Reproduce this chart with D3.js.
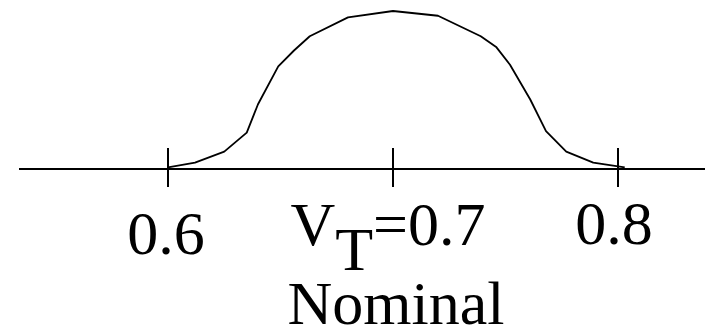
<!DOCTYPE html>
<html>
<head>
<meta charset="utf-8">
<script src="https://cdn.jsdelivr.net/npm/d3@7"></script>
<style>
  body { margin: 0; background: #fff; }
  svg { display: block; }
</style>
</head>
<body>
<div id="chart"></div>
<script>
// distribution of threshold voltage (relative density)
const voltages = [0.600, 0.612, 0.625, 0.635, 0.640, 0.649, 0.656, 0.663, 0.680, 0.700,
                  0.720, 0.739, 0.746, 0.752, 0.761, 0.768, 0.777, 0.789, 0.803];
const density  = [0.01, 0.04, 0.11, 0.23, 0.41, 0.65, 0.75, 0.84, 0.96, 1.00,
                  0.97, 0.84, 0.77, 0.66, 0.44, 0.24, 0.11, 0.04, 0.01];
const tickValues = [0.6, 0.7, 0.8];
const tickLabels = ["0.6", "V_T=0.7", "0.8"];
const axisLabel = "Nominal";

const width = 705, height = 334;
const font = "'Liberation Serif', 'Times New Roman', serif";

const svg = d3.select("#chart")
    .append("svg")
    .attr("width", width)
    .attr("height", height);

// scales
const x = d3.scaleLinear().domain([0.6, 0.8]).range([168, 618]);
const y = d3.scaleLinear().domain([0, 1]).range([169, 11]);

// horizontal axis line
svg.append("line")
    .attr("x1", 19).attr("x2", width)
    .attr("y1", y(0)).attr("y2", y(0))
    .style("stroke", "#000")
    .style("stroke-width", 2);

// ticks
svg.selectAll(".tick")
    .data(tickValues)
    .enter().append("line")
    .attr("class", "tick")
    .attr("x1", d => x(d)).attr("x2", d => x(d))
    .attr("y1", y(0) - 21).attr("y2", y(0) + 18)
    .style("stroke", "#000")
    .style("stroke-width", 2);

// curve
const pts = voltages.map((v, i) => [v, density[i]]);
svg.append("path")
    .datum(pts)
    .attr("d", d3.line().x(d => x(d[0])).y(d => y(d[1])))
    .style("fill", "none")
    .style("stroke", "#000")
    .style("stroke-width", 1.8)
    .style("stroke-linejoin", "round");

// tick labels
const baselines = [254, 245, 244];
const dx = [-2, -5, -4];
tickLabels.forEach((lab, i) => {
    const t = svg.append("text")
        .attr("x", x(tickValues[i]) + dx[i])
        .attr("y", baselines[i])
        .attr("text-anchor", "middle")
        .style("font-family", font)
        .style("font-size", "62px")
        .style("fill", "#000");
    if (lab.includes("_")) {
        const m = lab.match(/^(\w)_(\w)(.*)$/);
        t.append("tspan").text(m[1]);
        t.append("tspan").attr("dy", 25).text(m[2]);
        t.append("tspan").attr("dy", -25).text(m[3]);
    } else {
        t.text(lab);
    }
});

// axis title
svg.append("text")
    .attr("x", 396)
    .attr("y", 324)
    .attr("text-anchor", "middle")
    .style("font-family", font)
    .style("font-size", "62px")
    .style("fill", "#000")
    .text(axisLabel);
</script>
</body>
</html>
